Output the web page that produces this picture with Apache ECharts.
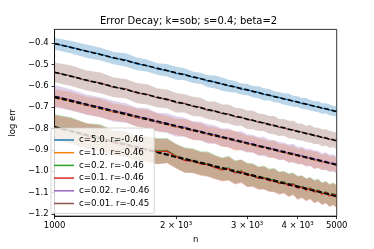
<!DOCTYPE html>
<html><head><meta charset="utf-8">
<script src="https://cdn.jsdelivr.net/npm/echarts@6/dist/echarts.min.js"></script>
<style>html,body{margin:0;padding:0;background:#fff}#c{width:374px;height:249px}</style>
</head><body><div id="c"></div>
<script>
const nValues = [1000,1100,1200,1300,1400,1500,1600,1700,1800,1900,2000,2100,2200,2300,2400,2500,2600,2700,2800,2900,3000,3100,3200,3300,3400,3500,3600,3700,3800,3900,4000,4100,4200,4300,4400,4500,4600,4700,4800,4900,5000];
const xTickValues = [1000,2000,3000,4000,5000];
const xTickLabels = ['1000','2 × 10³','3 × 10³','4 × 10³','5000'];
const yTickValues = [-1.2,-1.1,-1.0,-0.9,-0.8,-0.7,-0.6,-0.5,-0.4];
const seriesNames = ['c=5.0. r=-0.46','c=1.0. r=-0.46','c=0.2. r=-0.46','c=0.1. r=-0.46','c=0.02. r=-0.46','c=0.01. r=-0.45'];
const seriesColors = ['#1f77b4','#ff7f0e','#2ca02c','#d62728','#9467bd','#8c564b'];
const bandColors = ['rgba(31,119,180,0.3)','rgba(255,127,14,0.3)','rgba(44,160,44,0.3)','rgba(214,39,40,0.3)','rgba(148,103,189,0.3)','rgba(140,86,75,0.3)'];

const blueMean = [-0.402,-0.419,-0.437,-0.451,-0.470,-0.478,-0.497,-0.506,-0.521,-0.527,-0.541,-0.546,-0.560,-0.565,-0.578,-0.582,-0.592,-0.600,-0.604,-0.615,-0.617,-0.627,-0.630,-0.640,-0.642,-0.651,-0.654,-0.662,-0.664,-0.672,-0.674,-0.683,-0.684,-0.691,-0.696,-0.698,-0.706,-0.706,-0.713,-0.717,-0.721];
const blueSd = [0.028,0.029,0.031,0.030,0.029,0.031,0.030,0.028,0.027,0.029,0.030,0.028,0.027,0.026,0.028,0.030,0.031,0.029,0.027,0.026,0.027,0.026,0.028,0.029,0.027,0.026,0.025,0.027,0.028,0.026,0.025,0.026,0.027,0.025,0.024,0.026,0.025,0.024,0.025,0.024,0.024];
const orangeMean = [-0.656,-0.671,-0.692,-0.704,-0.723,-0.731,-0.749,-0.756,-0.772,-0.779,-0.793,-0.797,-0.812,-0.815,-0.829,-0.832,-0.845,-0.847,-0.859,-0.861,-0.872,-0.874,-0.886,-0.886,-0.898,-0.898,-0.909,-0.909,-0.920,-0.919,-0.930,-0.929,-0.939,-0.939,-0.948,-0.948,-0.958,-0.955,-0.965,-0.964,-0.972];
const orangeSd = [0.040,0.042,0.041,0.043,0.040,0.039,0.042,0.044,0.041,0.039,0.038,0.041,0.043,0.040,0.038,0.037,0.040,0.042,0.047,0.039,0.037,0.038,0.040,0.036,0.038,0.041,0.037,0.036,0.039,0.037,0.035,0.038,0.036,0.035,0.041,0.036,0.035,0.037,0.035,0.034,0.035];
const greenMean = [-0.793,-0.808,-0.834,-0.842,-0.866,-0.871,-0.893,-0.896,-0.905,-0.903,-0.928,-0.947,-0.950,-0.962,-0.966,-0.980,-0.990,-0.985,-1.004,-0.998,-1.016,-1.017,-1.031,-1.029,-1.041,-1.041,-1.054,-1.050,-1.064,-1.058,-1.076,-1.071,-1.085,-1.078,-1.094,-1.088,-1.104,-1.097,-1.112,-1.105,-1.117];
const greenSd = [0.060,0.061,0.059,0.062,0.058,0.060,0.057,0.059,0.061,0.058,0.056,0.059,0.057,0.055,0.058,0.056,0.054,0.057,0.055,0.053,0.056,0.054,0.052,0.055,0.053,0.056,0.052,0.051,0.054,0.052,0.055,0.051,0.053,0.050,0.054,0.051,0.052,0.050,0.053,0.051,0.052];
const redMean = [-0.796,-0.812,-0.836,-0.846,-0.868,-0.874,-0.896,-0.899,-0.908,-0.906,-0.931,-0.950,-0.953,-0.966,-0.969,-0.983,-0.994,-0.988,-1.008,-1.001,-1.019,-1.021,-1.034,-1.032,-1.045,-1.044,-1.058,-1.053,-1.068,-1.061,-1.080,-1.074,-1.089,-1.081,-1.098,-1.091,-1.108,-1.100,-1.116,-1.108,-1.121];
const redSd = [0.059,0.060,0.061,0.060,0.059,0.058,0.058,0.060,0.059,0.057,0.057,0.058,0.056,0.056,0.057,0.055,0.055,0.056,0.054,0.054,0.055,0.053,0.053,0.054,0.052,0.055,0.053,0.052,0.053,0.051,0.054,0.052,0.052,0.051,0.053,0.052,0.051,0.051,0.052,0.052,0.053];
const purpleMean = [-0.648,-0.667,-0.688,-0.700,-0.719,-0.727,-0.746,-0.752,-0.770,-0.775,-0.790,-0.794,-0.809,-0.812,-0.826,-0.829,-0.842,-0.844,-0.857,-0.858,-0.870,-0.871,-0.883,-0.884,-0.895,-0.895,-0.906,-0.906,-0.917,-0.916,-0.927,-0.926,-0.937,-0.936,-0.946,-0.945,-0.955,-0.953,-0.963,-0.962,-0.970];
const purpleSd = [0.052,0.050,0.048,0.047,0.049,0.046,0.045,0.047,0.044,0.046,0.048,0.045,0.043,0.044,0.046,0.043,0.042,0.044,0.042,0.045,0.043,0.041,0.043,0.045,0.042,0.041,0.043,0.040,0.042,0.044,0.041,0.040,0.042,0.040,0.043,0.041,0.039,0.042,0.040,0.041,0.040];
const brownMean = [-0.537,-0.553,-0.575,-0.586,-0.607,-0.613,-0.634,-0.640,-0.657,-0.661,-0.679,-0.682,-0.696,-0.700,-0.715,-0.717,-0.730,-0.732,-0.745,-0.746,-0.759,-0.760,-0.771,-0.772,-0.783,-0.784,-0.795,-0.795,-0.805,-0.806,-0.815,-0.816,-0.825,-0.825,-0.834,-0.835,-0.843,-0.842,-0.851,-0.851,-0.858];
const brownSd = [0.046,0.048,0.047,0.049,0.046,0.045,0.047,0.048,0.045,0.044,0.046,0.043,0.045,0.044,0.042,0.044,0.043,0.045,0.042,0.041,0.043,0.044,0.041,0.040,0.042,0.043,0.040,0.039,0.041,0.042,0.039,0.040,0.038,0.041,0.039,0.038,0.040,0.038,0.039,0.037,0.038];

const means = [blueMean, orangeMean, greenMean, redMean, purpleMean, brownMean];
const sds = [blueSd, orangeSd, greenSd, redSd, purpleSd, brownSd];
const logN = nValues.map(n => Math.log10(n));
const FONT = 'DejaVu Sans';

function fit(ys) {
  const k = logN.length;
  let sx = 0, sy = 0, sxx = 0, sxy = 0;
  for (let i = 0; i < k; i++) { sx += logN[i]; sy += ys[i]; sxx += logN[i] * logN[i]; sxy += logN[i] * ys[i]; }
  const b = (k * sxy - sx * sy) / (k * sxx - sx * sx);
  const a = (sy - b * sx) / k;
  return [a, b];
}

const series = [];
means.forEach((m, i) => {
  const upper = m.map((v, j) => [logN[j], v + sds[i][j]]);
  const lower = m.map((v, j) => [logN[j], v - sds[i][j]]);
  series.push({
    type: 'custom', silent: true, z: 1,
    data: [[logN[0], m[0]]],
    renderItem: (params, api) => {
      const pts = upper.map(p => api.coord(p)).concat(lower.slice().reverse().map(p => api.coord(p)));
      return { type: 'polygon', shape: { points: pts }, style: { fill: bandColors[i] } };
    }
  });
});
means.forEach((m, i) => {
  series.push({
    type: 'line', name: seriesNames[i], z: 2,
    data: m.map((v, j) => [logN[j], v]),
    showSymbol: false, symbol: 'none',
    lineStyle: { color: seriesColors[i], width: 1.3 },
    itemStyle: { color: seriesColors[i] }
  });
  const [a, b] = fit(m);
  const x0 = logN[0], x1 = logN[logN.length - 1];
  series.push({
    type: 'line', z: 2, silent: true, symbol: 'none', showSymbol: false,
    data: [[x0, a + b * x0], [x1, a + b * x1]],
    lineStyle: { color: '#000', width: 1.6, type: [5, 2.5] }
  });
});

const chart = echarts.init(document.getElementById('c'), null, { renderer: 'canvas' });
chart.setOption({
  animation: false,
  backgroundColor: '#fff',
  title: {
    text: 'Error Decay; k=sob; s=0.4; beta=2',
    left: 100, top: 15, padding: 0,
    textStyle: { fontFamily: FONT, fontSize: 10, fontWeight: 'normal', color: '#000', lineHeight: 12 }
  },
  grid: { left: 46.7, right: 37.3, top: 29.4, bottom: 31.4, show: true, borderColor: '#000', borderWidth: 0.8, backgroundColor: 'transparent' },
  legend: {
    data: seriesNames, orient: 'vertical', left: 51, top: 128,
    icon: 'rect', itemWidth: 20, itemHeight: 1.5, itemGap: 2.7,
    padding: [7, 5, 5, 3],
    backgroundColor: 'rgba(255,255,255,0.8)', borderColor: '#cccccc', borderWidth: 0.8, borderRadius: 2,
    textStyle: { fontFamily: FONT, fontSize: 8.7, color: '#000', lineHeight: 10, height: 10 }
  },
  xAxis: {
    type: 'value', min: Math.log10(1000), max: Math.log10(5000),
    name: 'n', nameLocation: 'middle', nameGap: 16,
    nameTextStyle: { fontFamily: FONT, fontSize: 8.5, color: '#000' },
    splitLine: { show: false },
    axisLine: { show: true, lineStyle: { color: '#000', width: 0.8 } },
    axisTick: { show: true, length: 3, lineStyle: { color: '#000', width: 0.8 }, customValues: xTickValues.map(v => Math.log10(v)) },
    axisLabel: {
      customValues: xTickValues.map(v => Math.log10(v)),
      margin: 5, fontFamily: FONT, fontSize: 8.5, color: '#000',
      formatter: v => {
        let best = 0, d = Infinity;
        xTickValues.forEach((t, k) => { const dd = Math.abs(Math.log10(t) - v); if (dd < d) { d = dd; best = k; } });
        return xTickLabels[best];
      }
    }
  },
  yAxis: {
    type: 'value', min: -1.2107, max: -0.3353,
    name: 'log err', nameLocation: 'middle', nameGap: 30,
    nameTextStyle: { fontFamily: FONT, fontSize: 8.5, color: '#000' },
    splitLine: { show: false },
    axisLine: { show: true, lineStyle: { color: '#000', width: 0.8 } },
    axisTick: { show: true, length: 3, lineStyle: { color: '#000', width: 0.8 }, customValues: yTickValues },
    axisLabel: {
      customValues: yTickValues, margin: 6, fontFamily: FONT, fontSize: 8.5, color: '#000',
      formatter: v => v.toFixed(1).replace('-', '\u2212')
    }
  },
  series: series
});
</script>
</body></html>
